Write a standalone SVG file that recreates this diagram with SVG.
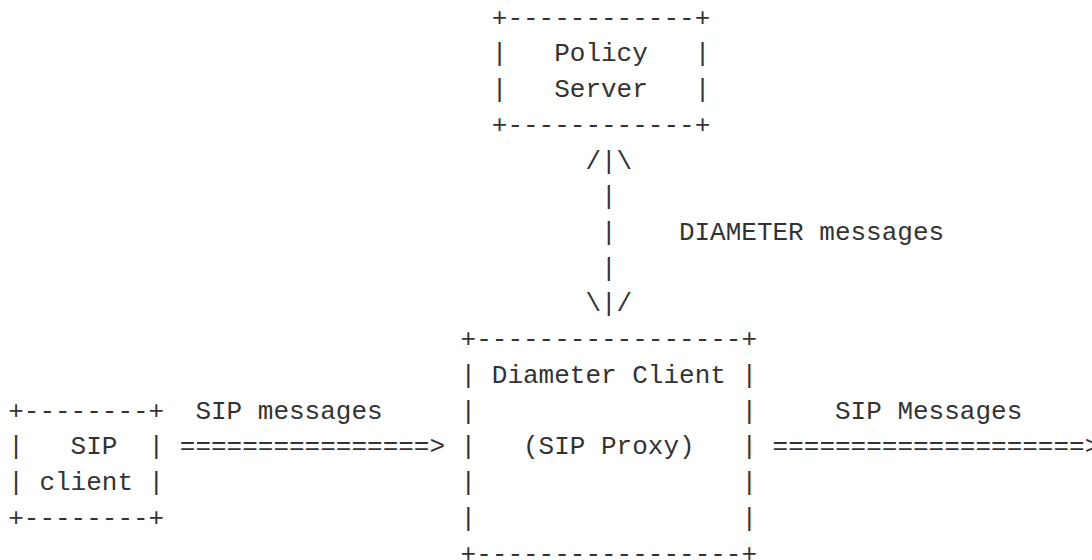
<svg xmlns="http://www.w3.org/2000/svg" width="1092" height="560" viewBox="0 0 1092 560">
  <style>
    text { font-family: "Liberation Mono", "DejaVu Sans Mono", monospace; font-size: 26px; fill: #333333; white-space: pre; }
  </style>
  <rect width="1092" height="560" fill="#ffffff"/>

  <!-- Policy Server box -->
  <g id="policy-server">
    <text x="491.8" y="25.6">+------------+</text>
    <text x="491.8" y="61.3">|   Policy   |</text>
    <text x="491.8" y="97.1">|   Server   |</text>
    <text x="491.8" y="132.8">+------------+</text>
  </g>

  <!-- Diameter Client (SIP Proxy) box -->
  <g id="diameter-client">
    <text x="460.6" y="347.2">+-----------------+</text>
    <text x="460.6" y="382.9">| Diameter Client |</text>
    <text x="460.6" y="418.6">|                 |</text>
    <text x="460.6" y="454.4">|   (SIP Proxy)   |</text>
    <text x="460.6" y="490.1">|                 |</text>
    <text x="460.6" y="525.8">|                 |</text>
    <text x="460.6" y="561.6">+-----------------+</text>
  </g>

  <!-- SIP client box -->
  <g id="sip-client">
    <text x="8.2" y="418.6">+--------+</text>
    <text x="8.2" y="454.4">|   SIP  |</text>
    <text x="8.2" y="490.1">| client |</text>
    <text x="8.2" y="525.8">+--------+</text>
  </g>

  <!-- Connectors -->
  <g id="connectors">
    <!-- Diameter link between policy server and client -->
    <text x="585.4" y="168.5">/|\</text>
    <text x="601.0" y="204.3">|</text>
    <text x="601.0" y="240.0">|</text>
    <text x="678.9" y="240.0">DIAMETER messages</text>
    <text x="601.0" y="275.7">|</text>
    <text x="585.4" y="311.4">\|/</text>

    <!-- SIP flow in -->
    <text x="195.4" y="418.6">SIP messages</text>
    <text x="179.8" y="454.4">================&gt;</text>

    <!-- SIP flow out -->
    <text x="835.0" y="418.6">SIP Messages</text>
    <text x="772.6" y="454.4">====================&gt;</text>
  </g>
</svg>
